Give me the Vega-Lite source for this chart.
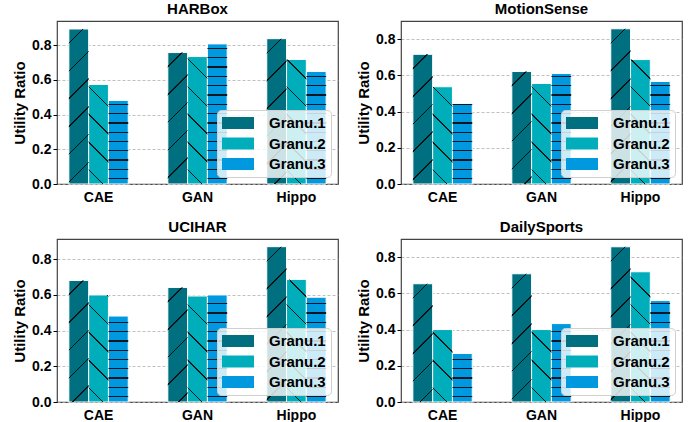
{
  "$schema": "https://vega.github.io/schema/vega-lite/v6.json",
  "padding": {"left": 11, "top": 1, "right": 5, "bottom": 2},
  "background": "white",
  "params": [
    {"name": "sd", "value": [
      {"offset": 0, "color": "rgba(0,0,0,0)"},
      {"offset": 0.07, "color": "rgba(0,0,0,0)"}, {"offset": 0.07, "color": "rgba(0,0,0,0.85)"}, {"offset": 0.078, "color": "rgba(0,0,0,0.85)"}, {"offset": 0.078, "color": "rgba(0,0,0,0)"},
      {"offset": 0.2129, "color": "rgba(0,0,0,0)"}, {"offset": 0.2129, "color": "rgba(0,0,0,0.85)"}, {"offset": 0.2209, "color": "rgba(0,0,0,0.85)"}, {"offset": 0.2209, "color": "rgba(0,0,0,0)"},
      {"offset": 0.3557, "color": "rgba(0,0,0,0)"}, {"offset": 0.3557, "color": "rgba(0,0,0,0.85)"}, {"offset": 0.3637, "color": "rgba(0,0,0,0.85)"}, {"offset": 0.3637, "color": "rgba(0,0,0,0)"},
      {"offset": 0.4986, "color": "rgba(0,0,0,0)"}, {"offset": 0.4986, "color": "rgba(0,0,0,0.85)"}, {"offset": 0.5066, "color": "rgba(0,0,0,0.85)"}, {"offset": 0.5066, "color": "rgba(0,0,0,0)"},
      {"offset": 0.6414, "color": "rgba(0,0,0,0)"}, {"offset": 0.6414, "color": "rgba(0,0,0,0.85)"}, {"offset": 0.6494, "color": "rgba(0,0,0,0.85)"}, {"offset": 0.6494, "color": "rgba(0,0,0,0)"},
      {"offset": 0.7843, "color": "rgba(0,0,0,0)"}, {"offset": 0.7843, "color": "rgba(0,0,0,0.85)"}, {"offset": 0.7923, "color": "rgba(0,0,0,0.85)"}, {"offset": 0.7923, "color": "rgba(0,0,0,0)"},
      {"offset": 0.9271, "color": "rgba(0,0,0,0)"}, {"offset": 0.9271, "color": "rgba(0,0,0,0.85)"}, {"offset": 0.9351, "color": "rgba(0,0,0,0.85)"}, {"offset": 0.9351, "color": "rgba(0,0,0,0)"},
      {"offset": 1, "color": "rgba(0,0,0,0)"}
    ]},
    {"name": "sh", "value": [
      {"offset": 0, "color": "rgba(0,0,0,0)"},
      {"offset": 0.0278, "color": "rgba(0,0,0,0)"}, {"offset": 0.0278, "color": "rgba(0,0,0,0.85)"}, {"offset": 0.0353, "color": "rgba(0,0,0,0.85)"}, {"offset": 0.0353, "color": "rgba(0,0,0,0)"},
      {"offset": 0.0833, "color": "rgba(0,0,0,0)"}, {"offset": 0.0833, "color": "rgba(0,0,0,0.85)"}, {"offset": 0.0908, "color": "rgba(0,0,0,0.85)"}, {"offset": 0.0908, "color": "rgba(0,0,0,0)"},
      {"offset": 0.1389, "color": "rgba(0,0,0,0)"}, {"offset": 0.1389, "color": "rgba(0,0,0,0.85)"}, {"offset": 0.1464, "color": "rgba(0,0,0,0.85)"}, {"offset": 0.1464, "color": "rgba(0,0,0,0)"},
      {"offset": 0.1944, "color": "rgba(0,0,0,0)"}, {"offset": 0.1944, "color": "rgba(0,0,0,0.85)"}, {"offset": 0.2019, "color": "rgba(0,0,0,0.85)"}, {"offset": 0.2019, "color": "rgba(0,0,0,0)"},
      {"offset": 0.25, "color": "rgba(0,0,0,0)"}, {"offset": 0.25, "color": "rgba(0,0,0,0.85)"}, {"offset": 0.2575, "color": "rgba(0,0,0,0.85)"}, {"offset": 0.2575, "color": "rgba(0,0,0,0)"},
      {"offset": 0.3056, "color": "rgba(0,0,0,0)"}, {"offset": 0.3056, "color": "rgba(0,0,0,0.85)"}, {"offset": 0.3131, "color": "rgba(0,0,0,0.85)"}, {"offset": 0.3131, "color": "rgba(0,0,0,0)"},
      {"offset": 0.3611, "color": "rgba(0,0,0,0)"}, {"offset": 0.3611, "color": "rgba(0,0,0,0.85)"}, {"offset": 0.3686, "color": "rgba(0,0,0,0.85)"}, {"offset": 0.3686, "color": "rgba(0,0,0,0)"},
      {"offset": 0.4167, "color": "rgba(0,0,0,0)"}, {"offset": 0.4167, "color": "rgba(0,0,0,0.85)"}, {"offset": 0.4242, "color": "rgba(0,0,0,0.85)"}, {"offset": 0.4242, "color": "rgba(0,0,0,0)"},
      {"offset": 0.4722, "color": "rgba(0,0,0,0)"}, {"offset": 0.4722, "color": "rgba(0,0,0,0.85)"}, {"offset": 0.4797, "color": "rgba(0,0,0,0.85)"}, {"offset": 0.4797, "color": "rgba(0,0,0,0)"},
      {"offset": 0.5278, "color": "rgba(0,0,0,0)"}, {"offset": 0.5278, "color": "rgba(0,0,0,0.85)"}, {"offset": 0.5353, "color": "rgba(0,0,0,0.85)"}, {"offset": 0.5353, "color": "rgba(0,0,0,0)"},
      {"offset": 0.5833, "color": "rgba(0,0,0,0)"}, {"offset": 0.5833, "color": "rgba(0,0,0,0.85)"}, {"offset": 0.5908, "color": "rgba(0,0,0,0.85)"}, {"offset": 0.5908, "color": "rgba(0,0,0,0)"},
      {"offset": 0.6389, "color": "rgba(0,0,0,0)"}, {"offset": 0.6389, "color": "rgba(0,0,0,0.85)"}, {"offset": 0.6464, "color": "rgba(0,0,0,0.85)"}, {"offset": 0.6464, "color": "rgba(0,0,0,0)"},
      {"offset": 0.6944, "color": "rgba(0,0,0,0)"}, {"offset": 0.6944, "color": "rgba(0,0,0,0.85)"}, {"offset": 0.7019, "color": "rgba(0,0,0,0.85)"}, {"offset": 0.7019, "color": "rgba(0,0,0,0)"},
      {"offset": 0.75, "color": "rgba(0,0,0,0)"}, {"offset": 0.75, "color": "rgba(0,0,0,0.85)"}, {"offset": 0.7575, "color": "rgba(0,0,0,0.85)"}, {"offset": 0.7575, "color": "rgba(0,0,0,0)"},
      {"offset": 0.8056, "color": "rgba(0,0,0,0)"}, {"offset": 0.8056, "color": "rgba(0,0,0,0.85)"}, {"offset": 0.8131, "color": "rgba(0,0,0,0.85)"}, {"offset": 0.8131, "color": "rgba(0,0,0,0)"},
      {"offset": 0.8611, "color": "rgba(0,0,0,0)"}, {"offset": 0.8611, "color": "rgba(0,0,0,0.85)"}, {"offset": 0.8686, "color": "rgba(0,0,0,0.85)"}, {"offset": 0.8686, "color": "rgba(0,0,0,0)"},
      {"offset": 0.9167, "color": "rgba(0,0,0,0)"}, {"offset": 0.9167, "color": "rgba(0,0,0,0.85)"}, {"offset": 0.9242, "color": "rgba(0,0,0,0.85)"}, {"offset": 0.9242, "color": "rgba(0,0,0,0)"},
      {"offset": 0.9722, "color": "rgba(0,0,0,0)"}, {"offset": 0.9722, "color": "rgba(0,0,0,0.85)"}, {"offset": 0.9797, "color": "rgba(0,0,0,0.85)"}, {"offset": 0.9797, "color": "rgba(0,0,0,0)"},
      {"offset": 1, "color": "rgba(0,0,0,0)"}
    ]}
  ],
  "datasets": {
    "all": [
      {"dataset": "HARBox", "method": "CAE", "granu": "Granu.1", "value": 0.894},
      {"dataset": "HARBox", "method": "CAE", "granu": "Granu.2", "value": 0.574},
      {"dataset": "HARBox", "method": "CAE", "granu": "Granu.3", "value": 0.482},
      {"dataset": "HARBox", "method": "GAN", "granu": "Granu.1", "value": 0.758},
      {"dataset": "HARBox", "method": "GAN", "granu": "Granu.2", "value": 0.735},
      {"dataset": "HARBox", "method": "GAN", "granu": "Granu.3", "value": 0.808},
      {"dataset": "HARBox", "method": "Hippo", "granu": "Granu.1", "value": 0.838},
      {"dataset": "HARBox", "method": "Hippo", "granu": "Granu.2", "value": 0.718},
      {"dataset": "HARBox", "method": "Hippo", "granu": "Granu.3", "value": 0.649},
      {"dataset": "MotionSense", "method": "CAE", "granu": "Granu.1", "value": 0.716},
      {"dataset": "MotionSense", "method": "CAE", "granu": "Granu.2", "value": 0.537},
      {"dataset": "MotionSense", "method": "CAE", "granu": "Granu.3", "value": 0.445},
      {"dataset": "MotionSense", "method": "GAN", "granu": "Granu.1", "value": 0.621},
      {"dataset": "MotionSense", "method": "GAN", "granu": "Granu.2", "value": 0.555},
      {"dataset": "MotionSense", "method": "GAN", "granu": "Granu.3", "value": 0.61},
      {"dataset": "MotionSense", "method": "Hippo", "granu": "Granu.1", "value": 0.857},
      {"dataset": "MotionSense", "method": "Hippo", "granu": "Granu.2", "value": 0.687},
      {"dataset": "MotionSense", "method": "Hippo", "granu": "Granu.3", "value": 0.566},
      {"dataset": "UCIHAR", "method": "CAE", "granu": "Granu.1", "value": 0.68},
      {"dataset": "UCIHAR", "method": "CAE", "granu": "Granu.2", "value": 0.599},
      {"dataset": "UCIHAR", "method": "CAE", "granu": "Granu.3", "value": 0.481},
      {"dataset": "UCIHAR", "method": "GAN", "granu": "Granu.1", "value": 0.641},
      {"dataset": "UCIHAR", "method": "GAN", "granu": "Granu.2", "value": 0.593},
      {"dataset": "UCIHAR", "method": "GAN", "granu": "Granu.3", "value": 0.599},
      {"dataset": "UCIHAR", "method": "Hippo", "granu": "Granu.1", "value": 0.869},
      {"dataset": "UCIHAR", "method": "Hippo", "granu": "Granu.2", "value": 0.686},
      {"dataset": "UCIHAR", "method": "Hippo", "granu": "Granu.3", "value": 0.586},
      {"dataset": "DailySports", "method": "CAE", "granu": "Granu.1", "value": 0.653},
      {"dataset": "DailySports", "method": "CAE", "granu": "Granu.2", "value": 0.4},
      {"dataset": "DailySports", "method": "CAE", "granu": "Granu.3", "value": 0.268},
      {"dataset": "DailySports", "method": "GAN", "granu": "Granu.1", "value": 0.708},
      {"dataset": "DailySports", "method": "GAN", "granu": "Granu.2", "value": 0.4},
      {"dataset": "DailySports", "method": "GAN", "granu": "Granu.3", "value": 0.433},
      {"dataset": "DailySports", "method": "Hippo", "granu": "Granu.1", "value": 0.857},
      {"dataset": "DailySports", "method": "Hippo", "granu": "Granu.2", "value": 0.719},
      {"dataset": "DailySports", "method": "Hippo", "granu": "Granu.3", "value": 0.56}
    ]
  },
  "config": {
    "font": "Liberation Sans",
    "view": {"stroke": "#444", "strokeWidth": 1.2},
    "title": {"fontSize": 15, "fontWeight": "bold", "font": "Liberation Sans", "offset": 4, "color": "black"},
    "axis": {
      "labelFont": "Liberation Sans", "labelFontSize": 14, "labelFontWeight": "bold", "labelColor": "black",
      "titleFont": "Liberation Sans", "titleFontSize": 15, "titleFontWeight": "bold", "titleColor": "black",
      "domain": false, "tickColor": "black", "tickSize": 4, "labelPadding": 2
    },
    "axisY": {"gridDash": [3, 2], "gridColor": "#b0b0b0", "gridWidth": 0.8, "titlePadding": 4},
    "axisX": {"grid": false, "labelAngle": 0, "title": null, "ticks": false, "labelPadding": 6},
    "legend": {
      "orient": "bottom-right", "offset": 7, "title": null,
      "fillColor": "rgba(255,255,255,0.8)", "strokeColor": "#d0d0d0", "cornerRadius": 4, "padding": 5,
      "symbolType": "M-2,-0.75H2V0.75H-2Z", "symbolSize": 256, "symbolOffset": 8, "symbolStrokeWidth": 0, "symbolOpacity": 1,
      "labelFont": "Liberation Sans", "labelFontSize": 15, "labelFontWeight": "bold", "labelColor": "black",
      "labelOffset": 23, "rowPadding": 4.5
    }
  },
  "spacing": 14,
  "resolve": {"scale": {"y": "independent", "color": "independent"}},
  "vconcat": [
    {
      "spacing": 16,
      "resolve": {"scale": {"y": "independent", "color": "independent"}},
      "hconcat": [
        {
          "title": "HARBox", "width": 281, "height": 163,
          "data": {"name": "all"},
          "transform": [{"filter": "datum.dataset === 'HARBox'"}],
          "encoding": {
            "x": {"field": "method", "type": "nominal", "sort": ["CAE", "GAN", "Hippo"], "scale": {"paddingInner": 0.4, "paddingOuter": 0.12}},
            "xOffset": {"field": "granu", "type": "nominal", "scale": {"paddingInner": 0, "paddingOuter": 0}},
            "y": {"field": "value", "type": "quantitative", "scale": {"domain": [0, 0.94], "nice": false}, "axis": {"title": "Utility Ratio", "values": [0, 0.2, 0.4, 0.6, 0.8], "format": ".1f"}}
          },
          "layer": [
            {"mark": {"type": "bar", "stroke": "white", "strokeWidth": 1},
             "encoding": {"color": {"field": "granu", "type": "nominal", "scale": {"range": ["#006f7f", "#00aebb", "#0099e0"]},
               "legend": {"encode": {"symbols": {"fill": {"value": {"expr": "datum.value === 'Granu.1' ? {gradient:'linear',x1:0,y1:0,x2:1.2055,y2:0.452,stops:[{offset:0,color:'#006f7f'},{offset:0.3,color:'#006f7f'},{offset:0.3,color:'#111'},{offset:0.332,color:'#111'},{offset:0.332,color:'#006f7f'},{offset:0.85,color:'#006f7f'},{offset:0.85,color:'#111'},{offset:0.882,color:'#111'},{offset:0.882,color:'#006f7f'},{offset:1,color:'#006f7f'}]} : datum.value === 'Granu.2' ? {gradient:'linear',x1:0,y1:1,x2:1.2055,y2:0.548,stops:[{offset:0,color:'#00aebb'},{offset:0.3,color:'#00aebb'},{offset:0.3,color:'#111'},{offset:0.332,color:'#111'},{offset:0.332,color:'#00aebb'},{offset:0.85,color:'#00aebb'},{offset:0.85,color:'#111'},{offset:0.882,color:'#111'},{offset:0.882,color:'#00aebb'},{offset:1,color:'#00aebb'}]} : {gradient:'linear',x1:0,y1:0,x2:0,y2:1,stops:[{offset:0,color:'#0099e0'},{offset:0.46,color:'#0099e0'},{offset:0.46,color:'#111'},{offset:0.54,color:'#111'},{offset:0.54,color:'#0099e0'},{offset:1,color:'#0099e0'}]}"}}}}}}}},
            {"mark": {"type": "bar", "strokeWidth": 0, "fill": {"expr": "datum.granu === 'Granu.3' ? {gradient: 'linear', x1: 0, y1: 1, x2: 0, y2: 1 - 167.4 / (datum.value * 173.4), stops: sh} : {gradient: 'linear', x1: 0, y1: datum.granu === 'Granu.1' ? 0 : 1, x2: 3839.3 / (391.6 + pow(datum.value * 173.4, 2)), y2: (datum.granu === 'Granu.1' ? 0 : 1) + (datum.granu === 'Granu.1' ? 1 : -1) * 194 * datum.value * 173.4 / (391.6 + pow(datum.value * 173.4, 2)), stops: sd}"}}}
          ]
        },
        {
          "title": "MotionSense", "width": 281, "height": 163,
          "data": {"name": "all"},
          "transform": [{"filter": "datum.dataset === 'MotionSense'"}],
          "encoding": {
            "x": {"field": "method", "type": "nominal", "sort": ["CAE", "GAN", "Hippo"], "scale": {"paddingInner": 0.4, "paddingOuter": 0.12}},
            "xOffset": {"field": "granu", "type": "nominal", "scale": {"paddingInner": 0, "paddingOuter": 0}},
            "y": {"field": "value", "type": "quantitative", "scale": {"domain": [0, 0.9], "nice": false}, "axis": {"title": "Utility Ratio", "values": [0, 0.2, 0.4, 0.6, 0.8], "format": ".1f"}}
          },
          "layer": [
            {"mark": {"type": "bar", "stroke": "white", "strokeWidth": 1},
             "encoding": {"color": {"field": "granu", "type": "nominal", "scale": {"range": ["#006f7f", "#00aebb", "#0099e0"]},
               "legend": {"encode": {"symbols": {"fill": {"value": {"expr": "datum.value === 'Granu.1' ? {gradient:'linear',x1:0,y1:0,x2:1.2055,y2:0.452,stops:[{offset:0,color:'#006f7f'},{offset:0.3,color:'#006f7f'},{offset:0.3,color:'#111'},{offset:0.332,color:'#111'},{offset:0.332,color:'#006f7f'},{offset:0.85,color:'#006f7f'},{offset:0.85,color:'#111'},{offset:0.882,color:'#111'},{offset:0.882,color:'#006f7f'},{offset:1,color:'#006f7f'}]} : datum.value === 'Granu.2' ? {gradient:'linear',x1:0,y1:1,x2:1.2055,y2:0.548,stops:[{offset:0,color:'#00aebb'},{offset:0.3,color:'#00aebb'},{offset:0.3,color:'#111'},{offset:0.332,color:'#111'},{offset:0.332,color:'#00aebb'},{offset:0.85,color:'#00aebb'},{offset:0.85,color:'#111'},{offset:0.882,color:'#111'},{offset:0.882,color:'#00aebb'},{offset:1,color:'#00aebb'}]} : {gradient:'linear',x1:0,y1:0,x2:0,y2:1,stops:[{offset:0,color:'#0099e0'},{offset:0.46,color:'#0099e0'},{offset:0.46,color:'#111'},{offset:0.54,color:'#111'},{offset:0.54,color:'#0099e0'},{offset:1,color:'#0099e0'}]}"}}}}}}}},
            {"mark": {"type": "bar", "strokeWidth": 0, "fill": {"expr": "datum.granu === 'Granu.3' ? {gradient: 'linear', x1: 0, y1: 1, x2: 0, y2: 1 - 167.4 / (datum.value * 181.1), stops: sh} : {gradient: 'linear', x1: 0, y1: datum.granu === 'Granu.1' ? 0 : 1, x2: 3839.3 / (391.6 + pow(datum.value * 181.1, 2)), y2: (datum.granu === 'Granu.1' ? 0 : 1) + (datum.granu === 'Granu.1' ? 1 : -1) * 194 * datum.value * 181.1 / (391.6 + pow(datum.value * 181.1, 2)), stops: sd}"}}}
          ]
        }
      ]
    },
    {
      "spacing": 16,
      "resolve": {"scale": {"y": "independent", "color": "independent"}},
      "hconcat": [
        {
          "title": "UCIHAR", "width": 281, "height": 163,
          "data": {"name": "all"},
          "transform": [{"filter": "datum.dataset === 'UCIHAR'"}],
          "encoding": {
            "x": {"field": "method", "type": "nominal", "sort": ["CAE", "GAN", "Hippo"], "scale": {"paddingInner": 0.4, "paddingOuter": 0.12}},
            "xOffset": {"field": "granu", "type": "nominal", "scale": {"paddingInner": 0, "paddingOuter": 0}},
            "y": {"field": "value", "type": "quantitative", "scale": {"domain": [0, 0.912], "nice": false}, "axis": {"title": "Utility Ratio", "values": [0, 0.2, 0.4, 0.6, 0.8], "format": ".1f"}}
          },
          "layer": [
            {"mark": {"type": "bar", "stroke": "white", "strokeWidth": 1},
             "encoding": {"color": {"field": "granu", "type": "nominal", "scale": {"range": ["#006f7f", "#00aebb", "#0099e0"]},
               "legend": {"encode": {"symbols": {"fill": {"value": {"expr": "datum.value === 'Granu.1' ? {gradient:'linear',x1:0,y1:0,x2:1.2055,y2:0.452,stops:[{offset:0,color:'#006f7f'},{offset:0.3,color:'#006f7f'},{offset:0.3,color:'#111'},{offset:0.332,color:'#111'},{offset:0.332,color:'#006f7f'},{offset:0.85,color:'#006f7f'},{offset:0.85,color:'#111'},{offset:0.882,color:'#111'},{offset:0.882,color:'#006f7f'},{offset:1,color:'#006f7f'}]} : datum.value === 'Granu.2' ? {gradient:'linear',x1:0,y1:1,x2:1.2055,y2:0.548,stops:[{offset:0,color:'#00aebb'},{offset:0.3,color:'#00aebb'},{offset:0.3,color:'#111'},{offset:0.332,color:'#111'},{offset:0.332,color:'#00aebb'},{offset:0.85,color:'#00aebb'},{offset:0.85,color:'#111'},{offset:0.882,color:'#111'},{offset:0.882,color:'#00aebb'},{offset:1,color:'#00aebb'}]} : {gradient:'linear',x1:0,y1:0,x2:0,y2:1,stops:[{offset:0,color:'#0099e0'},{offset:0.46,color:'#0099e0'},{offset:0.46,color:'#111'},{offset:0.54,color:'#111'},{offset:0.54,color:'#0099e0'},{offset:1,color:'#0099e0'}]}"}}}}}}}},
            {"mark": {"type": "bar", "strokeWidth": 0, "fill": {"expr": "datum.granu === 'Granu.3' ? {gradient: 'linear', x1: 0, y1: 1, x2: 0, y2: 1 - 167.4 / (datum.value * 178.7), stops: sh} : {gradient: 'linear', x1: 0, y1: datum.granu === 'Granu.1' ? 0 : 1, x2: 3839.3 / (391.6 + pow(datum.value * 178.7, 2)), y2: (datum.granu === 'Granu.1' ? 0 : 1) + (datum.granu === 'Granu.1' ? 1 : -1) * 194 * datum.value * 178.7 / (391.6 + pow(datum.value * 178.7, 2)), stops: sd}"}}}
          ]
        },
        {
          "title": "DailySports", "width": 281, "height": 163,
          "data": {"name": "all"},
          "transform": [{"filter": "datum.dataset === 'DailySports'"}],
          "encoding": {
            "x": {"field": "method", "type": "nominal", "sort": ["CAE", "GAN", "Hippo"], "scale": {"paddingInner": 0.4, "paddingOuter": 0.12}},
            "xOffset": {"field": "granu", "type": "nominal", "scale": {"paddingInner": 0, "paddingOuter": 0}},
            "y": {"field": "value", "type": "quantitative", "scale": {"domain": [0, 0.9], "nice": false}, "axis": {"title": "Utility Ratio", "values": [0, 0.2, 0.4, 0.6, 0.8], "format": ".1f"}}
          },
          "layer": [
            {"mark": {"type": "bar", "stroke": "white", "strokeWidth": 1},
             "encoding": {"color": {"field": "granu", "type": "nominal", "scale": {"range": ["#006f7f", "#00aebb", "#0099e0"]},
               "legend": {"encode": {"symbols": {"fill": {"value": {"expr": "datum.value === 'Granu.1' ? {gradient:'linear',x1:0,y1:0,x2:1.2055,y2:0.452,stops:[{offset:0,color:'#006f7f'},{offset:0.3,color:'#006f7f'},{offset:0.3,color:'#111'},{offset:0.332,color:'#111'},{offset:0.332,color:'#006f7f'},{offset:0.85,color:'#006f7f'},{offset:0.85,color:'#111'},{offset:0.882,color:'#111'},{offset:0.882,color:'#006f7f'},{offset:1,color:'#006f7f'}]} : datum.value === 'Granu.2' ? {gradient:'linear',x1:0,y1:1,x2:1.2055,y2:0.548,stops:[{offset:0,color:'#00aebb'},{offset:0.3,color:'#00aebb'},{offset:0.3,color:'#111'},{offset:0.332,color:'#111'},{offset:0.332,color:'#00aebb'},{offset:0.85,color:'#00aebb'},{offset:0.85,color:'#111'},{offset:0.882,color:'#111'},{offset:0.882,color:'#00aebb'},{offset:1,color:'#00aebb'}]} : {gradient:'linear',x1:0,y1:0,x2:0,y2:1,stops:[{offset:0,color:'#0099e0'},{offset:0.46,color:'#0099e0'},{offset:0.46,color:'#111'},{offset:0.54,color:'#111'},{offset:0.54,color:'#0099e0'},{offset:1,color:'#0099e0'}]}"}}}}}}}},
            {"mark": {"type": "bar", "strokeWidth": 0, "fill": {"expr": "datum.granu === 'Granu.3' ? {gradient: 'linear', x1: 0, y1: 1, x2: 0, y2: 1 - 167.4 / (datum.value * 181.1), stops: sh} : {gradient: 'linear', x1: 0, y1: datum.granu === 'Granu.1' ? 0 : 1, x2: 3839.3 / (391.6 + pow(datum.value * 181.1, 2)), y2: (datum.granu === 'Granu.1' ? 0 : 1) + (datum.granu === 'Granu.1' ? 1 : -1) * 194 * datum.value * 181.1 / (391.6 + pow(datum.value * 181.1, 2)), stops: sd}"}}}
          ]
        }
      ]
    }
  ]
}
